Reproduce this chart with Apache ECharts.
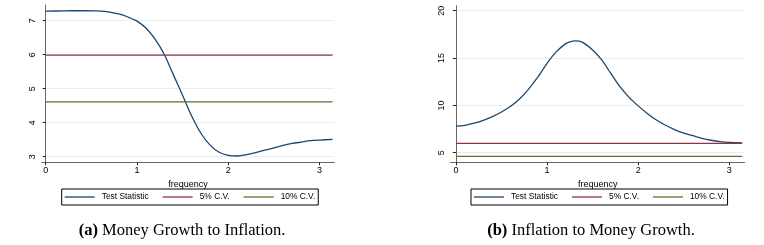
<!DOCTYPE html>
<html><head><meta charset="utf-8">
<script src="https://cdn.jsdelivr.net/npm/echarts@6/dist/echarts.min.js"></script>
<style>html,body{margin:0;padding:0;background:#fff}#c{width:764px;height:245px}</style>
</head><body><div id="c"></div>
<script>
// Panel (a): Money Growth to Inflation
const freqA = [0,0.2,0.4,0.6,0.7,0.8,0.9,1.0,1.1,1.2,1.3,1.4,1.5,1.6,1.7,1.8,1.9,2.0,2.1,2.2,2.3,2.4,2.5,2.6,2.7,2.8,2.9,3.0,3.1416];
const statA = [7.28,7.29,7.295,7.285,7.255,7.2,7.11,6.99,6.78,6.45,6.0,5.40,4.80,4.19,3.69,3.34,3.13,3.04,3.02,3.06,3.12,3.19,3.26,3.33,3.39,3.43,3.47,3.49,3.51];
// Panel (b): Inflation to Money Growth
const freqB = [0,0.1,0.2,0.3,0.4,0.5,0.6,0.7,0.8,0.9,1.0,1.1,1.2,1.25,1.31,1.35,1.4,1.5,1.6,1.7,1.8,1.9,2.0,2.1,2.2,2.3,2.4,2.5,2.6,2.7,2.8,2.9,3.0,3.1416];
const statB = [7.82,7.9,8.12,8.42,8.82,9.3,9.9,10.7,11.75,13.0,14.45,15.65,16.5,16.72,16.82,16.78,16.6,15.85,14.8,13.37,11.98,10.85,9.95,9.15,8.45,7.9,7.45,7.08,6.8,6.52,6.32,6.18,6.1,6.05];
const freqRange = [0, 3.1416];
const cv5 = 5.99;
const cv10 = 4.61;
const xTicks = [0,1,2,3];
const yTicksA = [3,4,5,6,7];
const yTicksB = [5,10,15,20];
const seriesNames = ['Test Statistic','5% C.V.','10% C.V.'];
const captions = ['Money Growth to Inflation.','Inflation to Money Growth.'];

const NAVY='#1a476f', MAROON='#90353b', GREEN='#55752f';
const FONT='Liberation Sans';
const pair = (xs, ys) => xs.map((x,i)=>[x,ys[i]]);

function xAxisFor(gi, min, max){
  return {type:'value', gridIndex:gi, min:min, max:max,
    name:'frequency', nameLocation:'middle', nameGap:13,
    nameTextStyle:{fontFamily:FONT, fontSize:9, color:'#000'},
    axisLine:{show:true, lineStyle:{color:'#666', width:1}},
    axisTick:{show:true, length:3, customValues:xTicks, lineStyle:{color:'#222'}},
    axisLabel:{customValues:xTicks, fontFamily:FONT, fontSize:9, color:'#000', margin:4},
    splitLine:{show:false}};
}
function yAxisFor(gi, min, max, ticks){
  return {type:'value', gridIndex:gi, min:min, max:max,
    axisLine:{show:true, lineStyle:{color:'#666', width:1}},
    axisTick:{show:true, length:3, customValues:ticks, lineStyle:{color:'#222'}},
    axisLabel:{customValues:ticks, rotate:90, fontFamily:FONT, fontSize:9, color:'#000', margin:5},
    splitLine:{show:false}};
}
function gridLines(gi, ticks){
  return {type:'line', xAxisIndex:gi, yAxisIndex:gi, data:[], silent:true, z:0,
    markLine:{silent:true, symbol:'none', z:0, label:{show:false}, animation:false,
      emphasis:{disabled:true},
      lineStyle:{color:'#e6eef0', width:1, type:'solid'},
      data: ticks.map(t=>({yAxis:t}))}};
}
function lineSeries(name, gi, data, color){
  return {type:'line', name:name, xAxisIndex:gi, yAxisIndex:gi, data:data,
    symbol:'none', smooth:0.3, lineStyle:{color:color, width:1.3}, itemStyle:{color:color}, z:10};
}
function legendFor(left){
  return {left:left, top:189, orient:'horizontal', data:seriesNames,
    icon:'rect', itemWidth:30, itemHeight:1.3, itemGap:14, padding:[4,3,4,3],
    borderColor:'#000', borderWidth:1,
    textStyle:{fontFamily:FONT, fontSize:8.4, color:'#000', padding:[0,0,0,2]}};
}
const capStyle = {fontFamily:'Liberation Serif', fontSize:16.5, fontWeight:'normal', color:'#000',
  rich:{b:{fontFamily:'Liberation Serif', fontSize:16.5, fontWeight:'bold', color:'#000'}}};

const option = {
  animation:false,
  backgroundColor:'#fff',
  title:[
    {text:'{b|(a)} '+captions[0], left:177, top:217, textAlign:'center', textStyle:capStyle},
    {text:'{b|(b)} '+captions[1], left:586, top:217, textAlign:'center', textStyle:capStyle}
  ],
  legend:[legendFor(61.7), legendFor(471)],
  grid:[
    {left:41.7, top:5, width:292.6, height:157.3, containLabel:false},
    {left:450.7, top:5.7, width:294, height:156.6, containLabel:false}
  ],
  xAxis:[xAxisFor(0,-0.044,3.161), xAxisFor(1,-0.058,3.169)],
  yAxis:[yAxisFor(0,2.835,7.463,yTicksA), yAxisFor(1,3.99,20.53,yTicksB)],
  series:[
    gridLines(0, yTicksA), gridLines(1, yTicksB),
    lineSeries(seriesNames[0],0,pair(freqA,statA),NAVY),
    {...lineSeries(seriesNames[1],0,freqRange.map(x=>[x,cv5]),MAROON), smooth:false},
    {...lineSeries(seriesNames[2],0,freqRange.map(x=>[x,cv10]),GREEN), smooth:false},
    lineSeries(seriesNames[0],1,pair(freqB,statB),NAVY),
    {...lineSeries(seriesNames[1],1,freqRange.map(x=>[x,cv5]),MAROON), smooth:false},
    {...lineSeries(seriesNames[2],1,freqRange.map(x=>[x,cv10]),GREEN), smooth:false}
  ]
};
const chart = echarts.init(document.getElementById('c'), null, {renderer:'canvas'});
chart.setOption(option);
</script></body></html>
